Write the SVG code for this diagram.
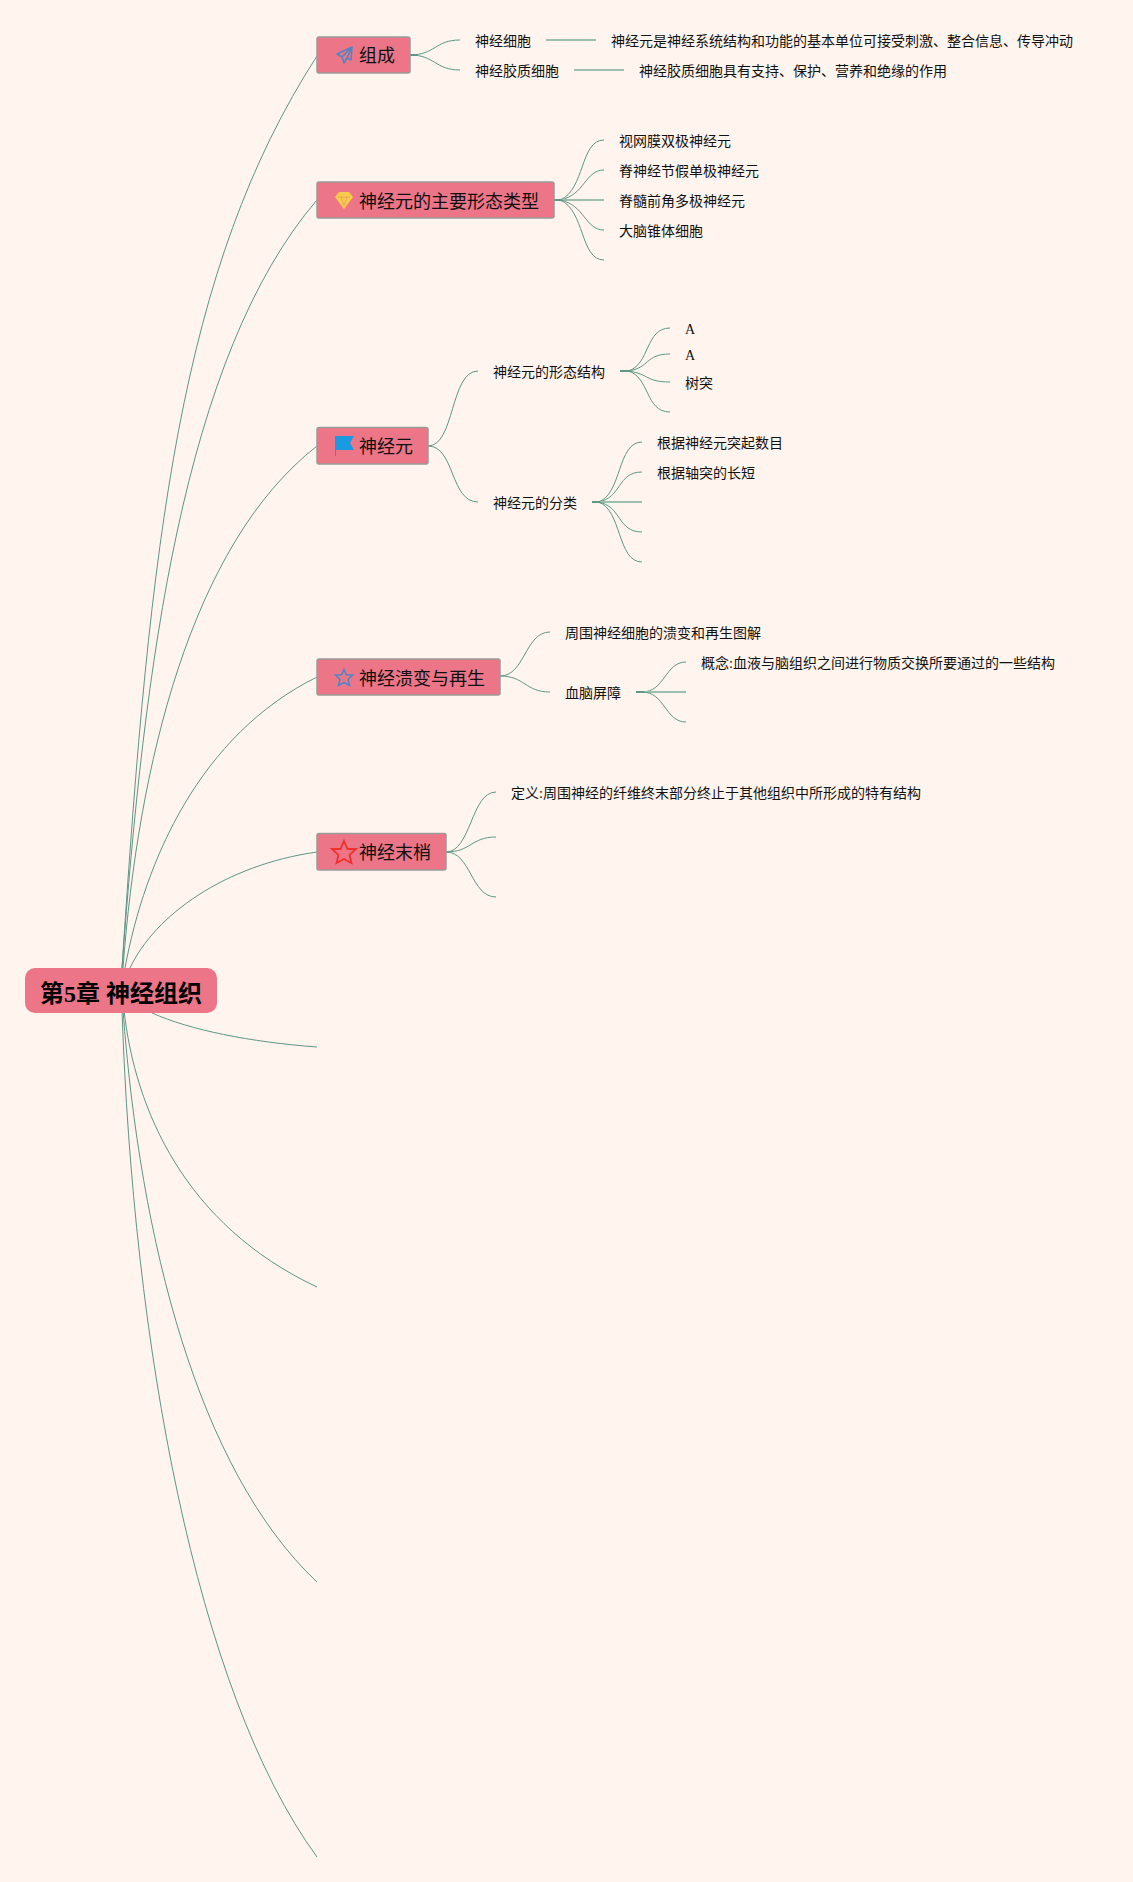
<svg xmlns="http://www.w3.org/2000/svg" width="1133" height="1882" viewBox="0 0 1133 1882">
<style>
text{font-family:"Liberation Serif","Noto Sans CJK SC",serif;fill:#111}
.t{font-size:14px}
.h{font-size:18px}
.r{font-size:24px;font-weight:bold;fill:#000}
.box{fill:#ec7588;stroke:#9a9a96;stroke-width:1.5}
.c{fill:none;stroke:#5f9684;stroke-width:1}
.s{fill:none;stroke:#5f9684;stroke-width:2}
.l{fill:none;stroke:#9dbfae;stroke-width:2}
</style>
<rect width="1133" height="1882" fill="#fff4ee"/>
<g id="connectors">
<path class="c" d="M122 968C150 538 180 268 317 56"/>
<path class="c" d="M122 968C144 668 183 356 317 200"/>
<path class="c" d="M123 968C138 768 190 545 317 446"/>
<path class="c" d="M125 968C145 860 200 735 317 677"/>
<path class="c" d="M130 968C155 915 225 865 317 852"/>
<path class="c" d="M152 1013C190 1030 250 1042 317 1047"/>
<path class="c" d="M124 1010C135 1110 185 1225 317 1287"/>
<path class="c" d="M123 1010C140 1240 198 1470 317 1582"/>
<path class="c" d="M122 1010C133 1340 195 1690 317 1857"/>
<path class="c" d="M410 55C435 55 435 40 460 40"/><path class="c" d="M410 55C435 55 435 70 460 70"/><path class="s" d="M410 55H418"/>
<path class="l" d="M546 40H596M574 70H624"/>
<path class="s" d="M554 200H564"/>
<path class="c" d="M560 200C585 190 580 140 604 140"/><path class="c" d="M560 200C585 195 585 170 604 170"/><path class="l" d="M562 200H604"/><path class="c" d="M560 200C585 205 585 230 604 230"/><path class="c" d="M560 200C585 210 580 260 604 260"/>
<path class="c" d="M428 446C455 446 450 371 478 371"/><path class="c" d="M428 446C455 446 450 502 478 502"/>
<path class="s" d="M620 371H630"/>
<path class="c" d="M628 371C650 365 645 328 670 328"/><path class="c" d="M628 371C650 368 645 354 670 354"/><path class="c" d="M628 371C650 374 645 382 670 382"/><path class="c" d="M628 371C650 377 645 412 670 412"/>
<path class="s" d="M592 502H602"/>
<path class="c" d="M598 502C622 495 617 442 642 442"/><path class="c" d="M598 502C622 498 617 472 642 472"/><path class="l" d="M600 502H642"/><path class="c" d="M598 502C622 506 617 532 642 532"/><path class="c" d="M598 502C622 509 617 562 642 562"/>
<path class="c" d="M500 676C525 676 525 632 550 632"/><path class="c" d="M500 676C525 676 525 692 550 692"/>
<path class="s" d="M636 692H646"/>
<path class="c" d="M642 692C665 692 665 662 686 662"/><path class="l" d="M644 692H686"/><path class="c" d="M642 692C665 692 665 722 686 722"/>
<path class="c" d="M446 852C471 852 471 792 496 792"/><path class="c" d="M446 852C471 852 471 837 496 837"/><path class="c" d="M446 852C471 852 471 897 496 897"/>
</g>
<g id="root"><rect x="25" y="968" width="192" height="45" rx="10" fill="#ec7588"/><text class="r" x="40" y="1002" xml:space="preserve">第5章 神经组织</text></g>
<g id="n1"><rect class="box" x="317" y="37" width="93" height="36" rx="2"/>
<path d="M352 47L337 54L342 57L344 63L347 58L351 60ZM342 57L352 47L347 58" fill="none" stroke="#5585c0" stroke-width="1.6" stroke-linejoin="round"/>
<text class="h" x="359" y="62">组成</text></g>
<g id="n2"><rect class="box" x="317" y="182" width="237" height="36" rx="2"/>
<path d="M339 192H349L353 197L344 209L335 197Z" fill="#f6cc4a"/><path d="M338 197H350M341 197L344 206L347 197" fill="none" stroke="#ec9a6a" stroke-width=".8"/>
<text class="h" x="359" y="208">神经元的主要形态类型</text></g>
<g id="n3"><rect class="box" x="317" y="427.500" width="111" height="36.500" rx="2"/>
<path d="M335 436H354L350 443L354 450H336V456H335Z" fill="#1a9ae0"/>
<text class="h" x="359" y="453">神经元</text></g>
<g id="n4"><rect class="box" x="317" y="659" width="183" height="36" rx="2"/>
<path d="M344 669.500L346.500 675H352.500L348 679.500L349.500 685.500L344 682.500L338.500 685.500L340 679.500L335.500 675H341.500Z" fill="none" stroke="#4f88c8" stroke-width="1.6"/>
<text class="h" x="359" y="685">神经溃变与再生</text></g>
<g id="n5"><rect class="box" x="317" y="833.500" width="129" height="36.500" rx="2"/>
<path d="M344 841L347.500 849H356L349.500 855L351.500 863L344 859L336.500 863L338.500 855L332 849H340.500Z" fill="none" stroke="#f0302c" stroke-width="1.8"/>
<text class="h" x="359" y="859">神经末梢</text></g>
<g id="l1"><text class="t" x="475" y="46">神经细胞</text><text class="t" x="611" y="46">神经元是神经系统结构和功能的基本单位可接受刺激、整合信息、传导冲动</text></g>
<g id="l2"><text class="t" x="475" y="76">神经胶质细胞</text><text class="t" x="639" y="76">神经胶质细胞具有支持、保护、营养和绝缘的作用</text></g>
<g id="l3"><text class="t" x="619" y="146">视网膜双极神经元</text><text class="t" x="619" y="176">脊神经节假单极神经元</text><text class="t" x="619" y="206">脊髓前角多极神经元</text><text class="t" x="619" y="236">大脑锥体细胞</text></g>
<g id="l4"><text class="t" x="493" y="377">神经元的形态结构</text><text class="t" x="685" y="334">A</text><text class="t" x="685" y="360">A</text><text class="t" x="685" y="388">树突</text></g>
<g id="l5"><text class="t" x="493" y="508">神经元的分类</text><text class="t" x="657" y="448">根据神经元突起数目</text><text class="t" x="657" y="478">根据轴突的长短</text></g>
<g id="l6"><text class="t" x="565" y="638">周围神经细胞的溃变和再生图解</text><text class="t" x="565" y="698">血脑屏障</text><text class="t" x="701" y="668">概念:血液与脑组织之间进行物质交换所要通过的一些结构</text></g>
<g id="l7"><text class="t" x="511" y="798">定义:周围神经的纤维终末部分终止于其他组织中所形成的特有结构</text></g>
</svg>
